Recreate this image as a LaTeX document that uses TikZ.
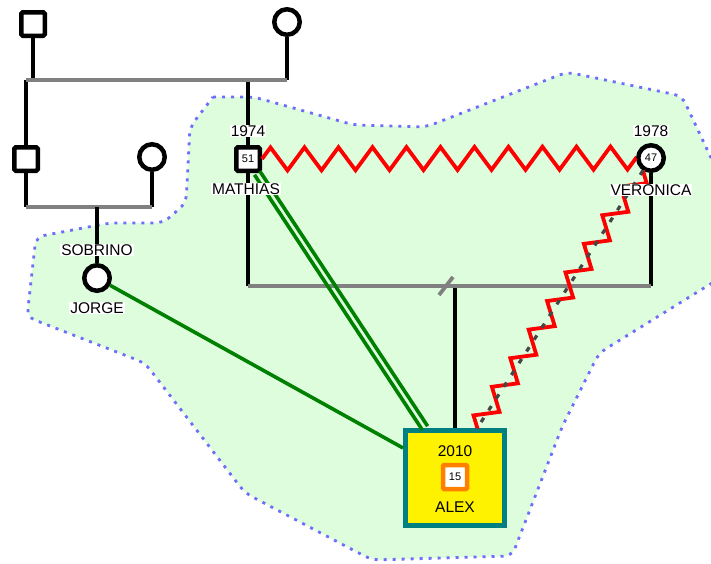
\documentclass[tikz,border=0pt]{standalone}
\usepackage{fontspec}
\setmainfont{Liberation Sans}
\usetikzlibrary{decorations.pathmorphing}
\definecolor{bggreen}{RGB}{221,253,221}
\definecolor{dotblue}{RGB}{110,110,250}
\definecolor{lgrey}{RGB}{128,128,128}
\definecolor{dgreen}{RGB}{0,128,0}
\definecolor{tealb}{RGB}{0,128,128}
\definecolor{orangeb}{RGB}{255,128,0}
\definecolor{dashgrey}{RGB}{70,70,70}
\begin{document}
\begin{tikzpicture}[x=1pt,y=-1pt,
  male/.style={draw, line width=4.5pt, fill=white, minimum size=23.5pt, rounded corners=1.5pt, inner sep=0pt, font=\fontsize{11}{12}\selectfont},
  female/.style={draw, circle, line width=4.5pt, fill=white, minimum size=25.5pt, inner sep=0pt, font=\fontsize{11}{12}\selectfont},
  lbl/.style={fill=white, inner sep=1pt, font=\fontsize{15.5}{17}\selectfont},
  plain/.style={inner sep=1pt, font=\fontsize{15.5}{17}\selectfont},
  kin/.style={line width=4.2pt, black},
  famline/.style={line width=4.2pt, lgrey},
  gline/.style={line width=3.6pt, dgreen},
  zz/.style={red, line width=3.8pt, line join=miter, decorate, decoration={zigzag, segment length=34pt, amplitude=11.5pt}},
  alexbox/.style={draw=tealb, line width=5pt, fill=yellow, minimum width=99pt, minimum height=95pt, inner sep=0pt},
  orbox/.style={draw=orangeb, line width=4.5pt, fill=white, minimum size=24pt, rounded corners=1pt, inner sep=0pt, font=\fontsize{11}{12}\selectfont}
]
\useasboundingbox (0,0) rectangle (711,563);
% emotional zone
\fill[bggreen, rounded corners=8pt] (213,97) -- (254,97) -- (354,125) -- (426,127) -- (567,72) -- (682,96) -- (712,160) -- (712,283) -- (599,353) -- (562,427) -- (512,556) -- (372,560) -- (245,493) -- (145,363) -- (27,317) -- (36,237) -- (109,223) -- (163,223) -- (186,203) -- (190,127) -- cycle;
\draw[dotblue, line width=2.8pt, dash pattern=on 3pt off 6pt, rounded corners=8pt] (213,97) -- (254,97) -- (354,125) -- (426,127) -- (567,72) -- (682,96) -- (712,160);
\draw[dotblue, line width=2.8pt, dash pattern=on 3pt off 6pt, rounded corners=8pt] (712,283) -- (599,353) -- (562,427) -- (512,556) -- (372,560) -- (245,493) -- (145,363) -- (27,317) -- (36,237) -- (109,223) -- (163,223) -- (186,203) -- (190,127) -- (213,97);

% people
\node[male] (gf) at (33,24) {};
\node[female] (gm) at (287,22) {};
\node[male] (unc) at (26,159) {};
\node[female] (aunt) at (152,157) {};
\node[female] (jorge) at (97,278) {};
\node[male] (mathias) at (248,159) {51};
\node[female] (veronica) at (651,158) {47};
\node[alexbox] (alex) at (455,478) {};

% family lines
\coordinate (t1) at (26,80);
\coordinate (t2) at (287,80);
\coordinate (s1) at (26,207);
\coordinate (s2) at (152,207);
\coordinate (s3) at (97,207);
\coordinate (p1) at (248,286);
\coordinate (p2) at (651,286);
\coordinate (p3) at (455,286);
\coordinate (sl1) at (439,295);
\coordinate (sl2) at (453,277);

\draw[kin] (gf.south) -- (gf.south |- t1);
\draw[kin] (gm.south) -- (t2);
\draw[kin] (t1) -- (unc.north);
\draw[kin] (mathias.north) -- (mathias.north |- t1);
\draw[famline] (t1) -- (t2);
\draw[kin] (unc.south) -- (s1);
\draw[kin] (aunt.south) -- (s2);
\draw[famline] (s1) -- (s2);
\draw[kin] (s3) -- (jorge.north);
\draw[kin] (mathias.south) -- (p1);
\draw[kin] (veronica.south) -- (p2);
\draw[kin] (p3) -- (alex.north);
\draw[famline] (p1) -- (p2);
\draw[famline, line width=3.8pt] (sl1) -- (sl2);

% emotional relations
\draw[gline] (jorge) -- (alex.150);
\draw[gline, transform canvas={shift={(2.7,-1.8)}}] (mathias) -- (alex.121);
\draw[gline, transform canvas={shift={(-2.7,1.8)}}] (mathias) -- (alex.121);
\draw[zz] (mathias) -- (veronica);
\draw[zz, decoration={amplitude=10pt}] (veronica) -- (alex.66);
\draw[dashgrey, line width=3.2pt, dash pattern=on 5pt off 9pt] (veronica) -- (alex.66);

% labels
\node[lbl] (y1974) at (248,131) {1974};
\node[lbl] (nmathias) at (246,189) {MATHIAS};
\node[lbl] (y1978) at (651,131) {1978};
\node[lbl] (nveronica) at (651,190) {VERONICA};
\node[lbl] (nsobrino) at (97,250) {SOBRINO};
\node[lbl] (njorge) at (97,308) {JORGE};
\node[plain] (y2010) at (455,451) {2010};
\node[orbox] (a15) at (455,477) {15};
\node[plain] (nalex) at (455,507) {ALEX};
\end{tikzpicture}
\end{document}
